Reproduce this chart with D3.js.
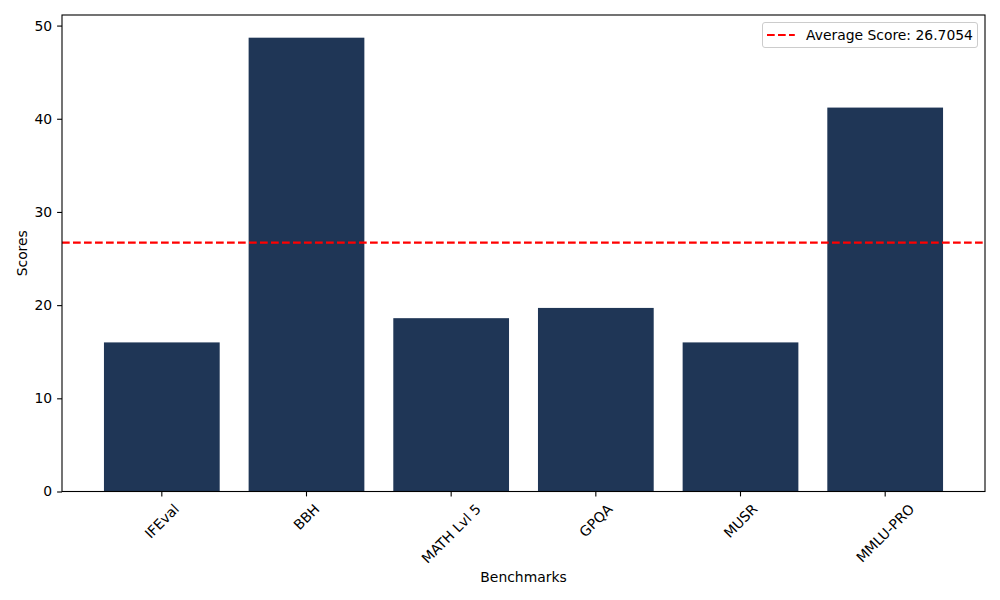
<!DOCTYPE html>
<html>
<head>
<meta charset="utf-8">
<script src="https://cdn.jsdelivr.net/npm/d3@7"></script>
<style>
  body { margin: 0; background: #fff; }
  svg { font-family: "DejaVu Sans", sans-serif; }
</style>
</head>
<body>
<svg width="1000" height="600"></svg>
<script>
// data
let benchmarks = ["IFEval", "BBH", "MATH Lvl 5", "GPQA", "MUSR", "MMLU-PRO"];
let scores = [16.0, 48.7, 18.6, 19.7, 16.0, 41.2];
let averageScore = 26.7054;
let yTicks = [0, 10, 20, 30, 40, 50];

let width = 1000;
let height = 600;
let plotLeft = 62, plotRight = 985, plotTop = 15, plotBottom = 491.5;
let fontSize = 13.9;

let svg = d3.select("svg");

let xScale = d3.scaleBand()
               .domain(benchmarks)
               .range([plotLeft, plotRight])
               .paddingInner(0.2)
               .paddingOuter(0.29);

let yScale = d3.scaleLinear()
               .domain([0, d3.max(scores) * 1.05])
               .range([plotBottom, plotTop]);

// bars
svg.selectAll("rect.bar")
   .data(scores)
   .enter()
   .append("rect")
   .attr("class", "bar")
   .attr("x", (d, i) => xScale(benchmarks[i]))
   .attr("width", xScale.bandwidth())
   .attr("y", d => yScale(d))
   .attr("height", d => yScale(0) - yScale(d))
   .attr("fill", "#1f3656");

// average line
svg.append("line")
   .attr("x1", plotLeft).attr("x2", plotRight)
   .attr("y1", yScale(averageScore)).attr("y2", yScale(averageScore))
   .attr("stroke", "#ff0000")
   .attr("stroke-width", 2.08)
   .attr("stroke-dasharray", "7.7,3.3");

// frame
svg.append("rect")
   .attr("x", plotLeft).attr("y", plotTop)
   .attr("width", plotRight - plotLeft).attr("height", plotBottom - plotTop)
   .attr("fill", "none")
   .attr("stroke", "#000")
   .attr("stroke-width", 1.1);

// y axis
let yAxis = d3.axisLeft(yScale).tickValues(yTicks).tickSize(4.9).tickPadding(4.9).tickFormat(d3.format("d"));
let gy = svg.append("g")
   .attr("transform", "translate(" + plotLeft + ",0)")
   .call(yAxis);
gy.select(".domain").remove();
gy.selectAll("text").attr("font-size", fontSize).attr("fill", "#000").attr("font-family", "DejaVu Sans");
gy.selectAll("line").attr("stroke", "#000").attr("stroke-width", 1.1);

// x axis
let xAxis = d3.axisBottom(xScale).tickSize(4.9).tickPadding(0);
let gx = svg.append("g")
   .attr("transform", "translate(0," + plotBottom + ")")
   .call(xAxis);
gx.select(".domain").remove();
gx.selectAll("line").attr("stroke", "#000").attr("stroke-width", 1.1);
gx.selectAll("text")
  .attr("font-size", fontSize)
  .attr("font-family", "DejaVu Sans")
  .attr("fill", "#000")
  .attr("text-anchor", "middle")
  .attr("dominant-baseline", "central")
  .attr("dy", null)
  .each(function () {
      let w = this.getComputedTextLength();
      let h = fontSize * 1.05;
      let cy = 9.8 + (w + h) * Math.SQRT1_2 / 2;
      d3.select(this)
        .attr("y", cy)
        .attr("transform", "rotate(-45,0," + cy + ")");
  });

// axis labels
svg.append("text")
   .attr("x", (plotLeft + plotRight) / 2)
   .attr("y", 582)
   .attr("text-anchor", "middle")
   .attr("font-size", fontSize)
   .text("Benchmarks");

svg.append("text")
   .attr("transform", "translate(27," + ((plotTop + plotBottom) / 2) + ") rotate(-90)")
   .attr("text-anchor", "middle")
   .attr("font-size", fontSize)
   .text("Scores");

// legend
let legend = svg.append("g").attr("transform", "translate(762.5,22.5)");
legend.append("rect")
      .attr("width", 215).attr("height", 25)
      .attr("rx", 2.5)
      .attr("fill", "#fff")
      .attr("fill-opacity", 0.8)
      .attr("stroke", "#cccccc")
      .attr("stroke-width", 1);
legend.append("line")
      .attr("x1", 4.5).attr("x2", 32.3)
      .attr("y1", 12.5).attr("y2", 12.5)
      .attr("stroke", "#ff0000")
      .attr("stroke-width", 2.08)
      .attr("stroke-dasharray", "7.7,3.3");
legend.append("text")
      .attr("x", 43.5)
      .attr("y", 17.3)
      .attr("font-size", fontSize)
      .text("Average Score: " + averageScore);
</script>
</body>
</html>
